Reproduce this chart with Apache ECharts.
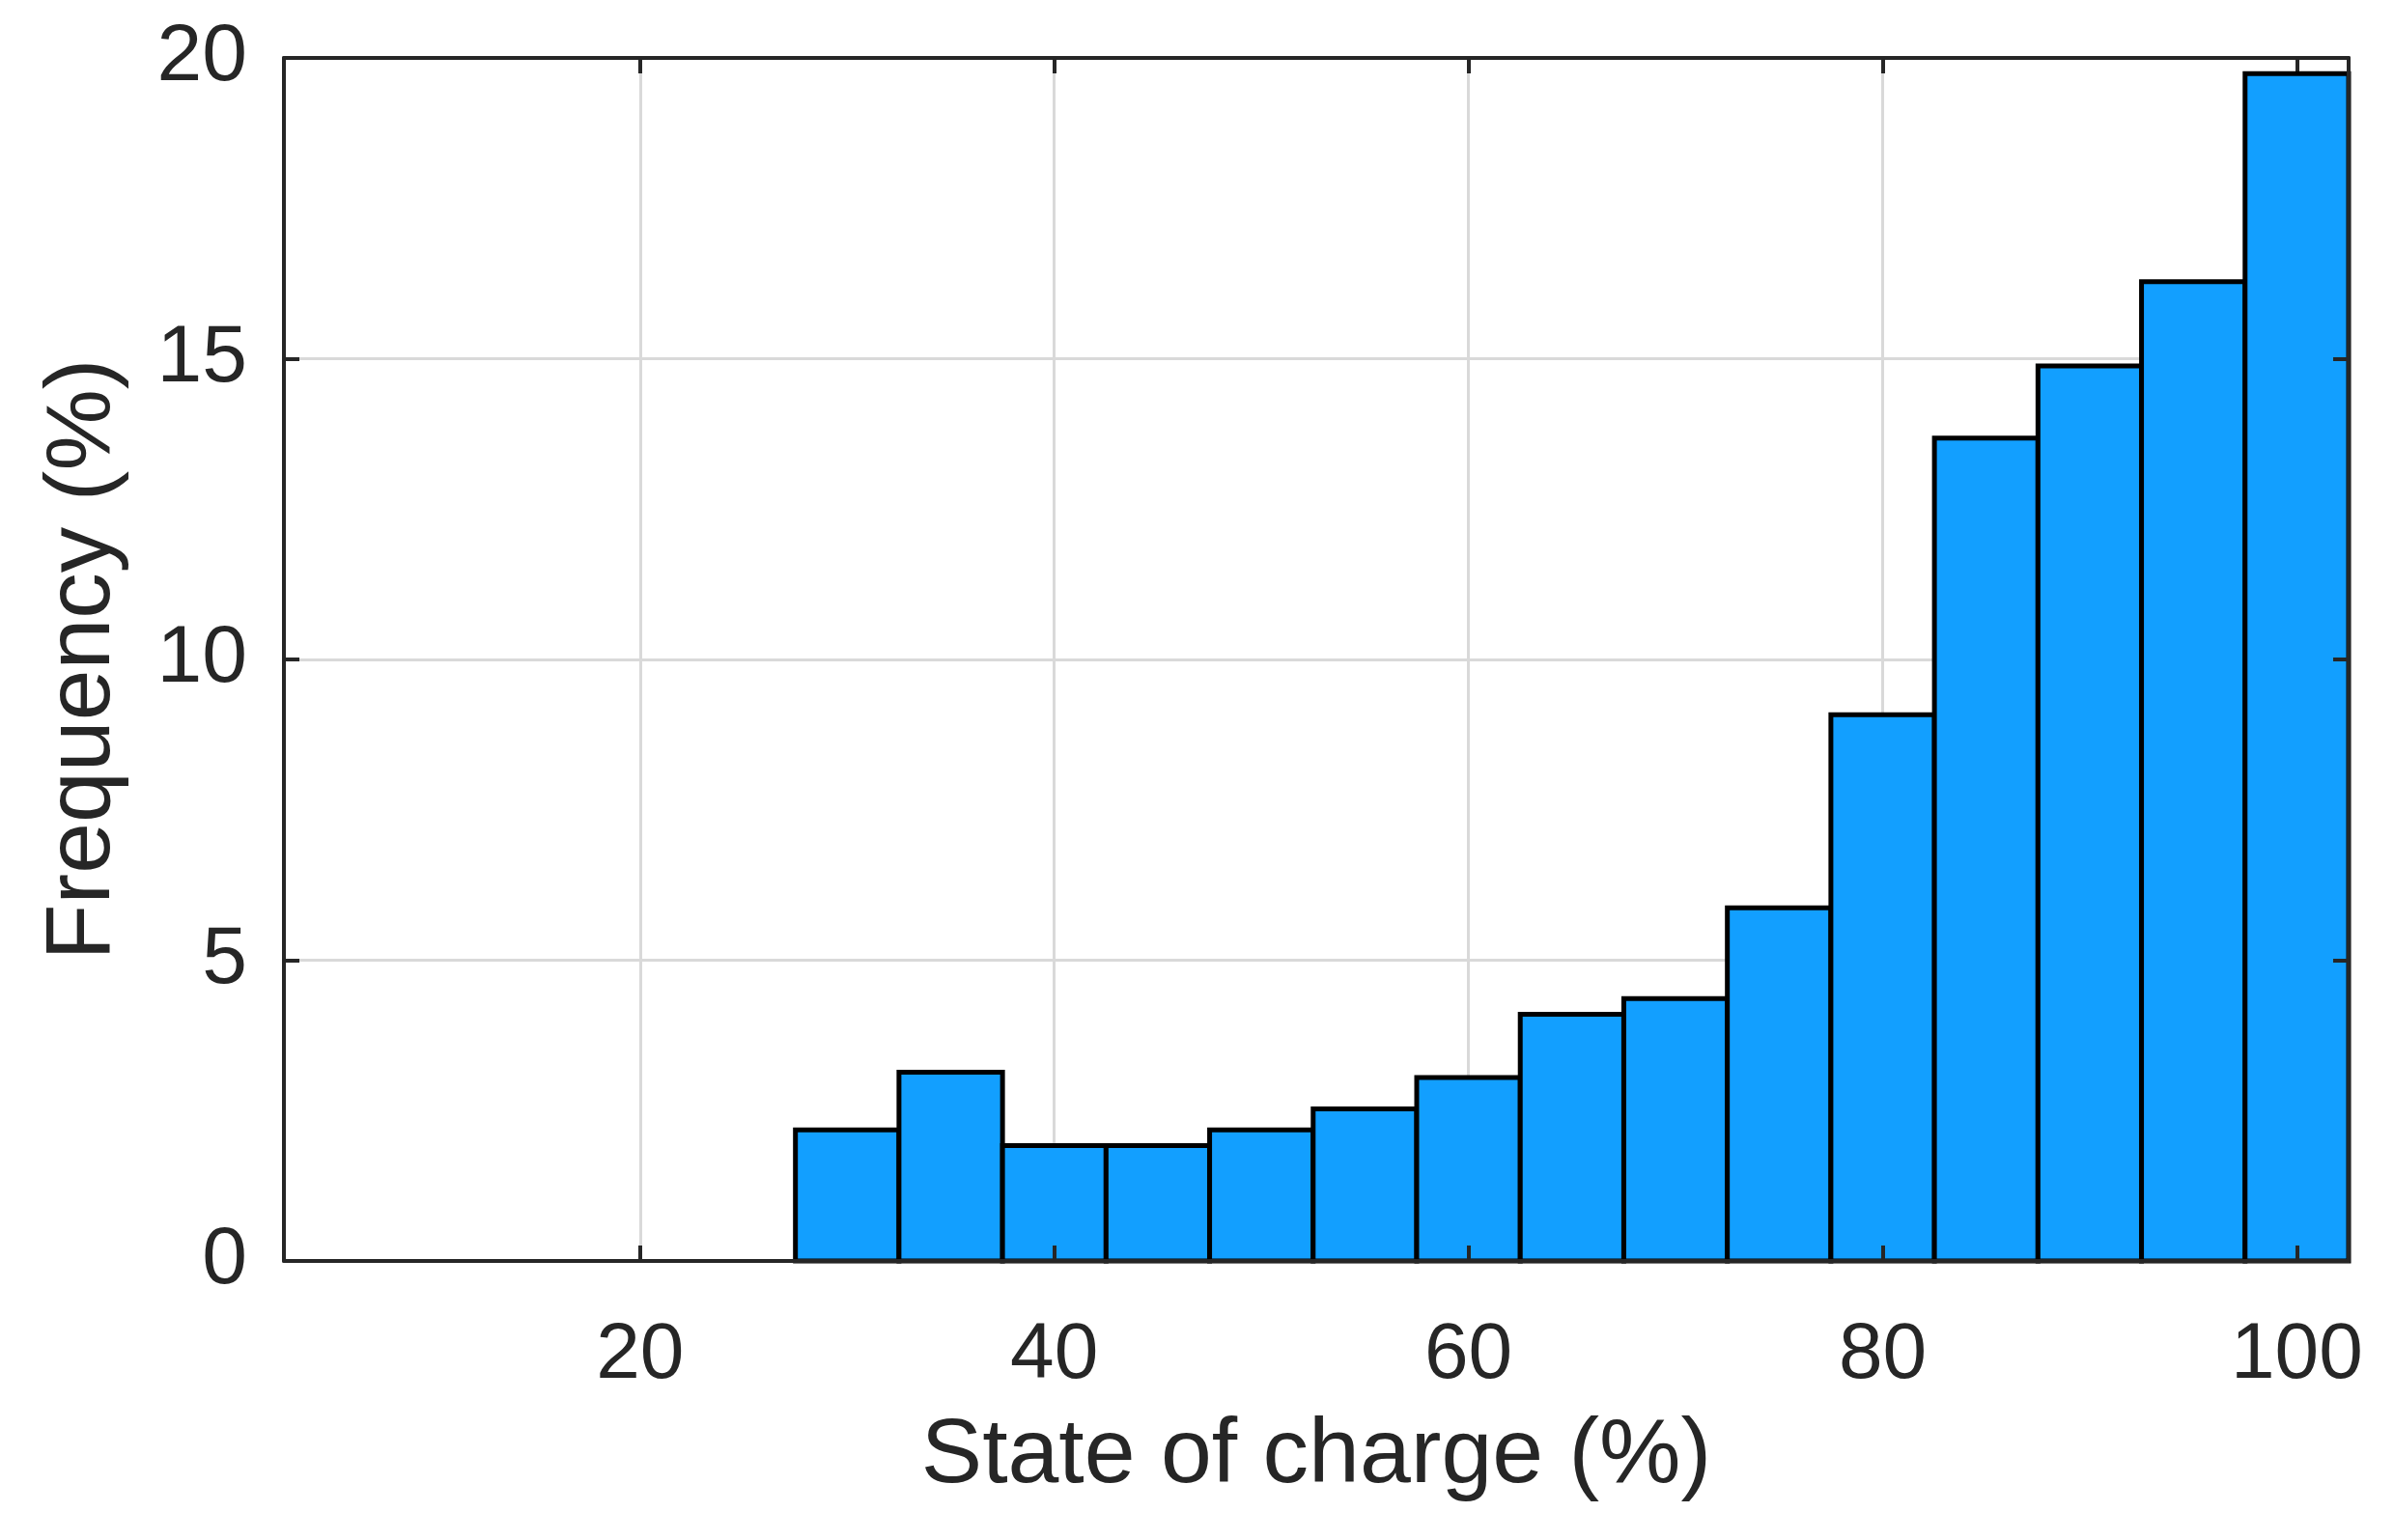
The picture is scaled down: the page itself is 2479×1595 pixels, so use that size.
<!DOCTYPE html>
<html>
<head>
<meta charset="utf-8">
<script src="https://cdn.jsdelivr.net/npm/echarts@6/dist/echarts.min.js"></script>
<style>
  html, body { margin: 0; padding: 0; background: #fff; }
  #chart { width: 2479px; height: 1595px; }
</style>
</head>
<body>
<div id="chart"></div>
<script>
// 直方图的分箱边界 (State of charge, %)
var binEdges = [27.5, 32.5, 37.5, 42.5, 47.5, 52.5, 57.5, 62.5, 67.5, 72.5, 77.5, 82.5, 87.5, 92.5, 97.5, 102.5];
// 每个分箱的频率 (%)
var frequency = [2.18, 3.14, 1.92, 1.92, 2.18, 2.53, 3.05, 4.10, 4.36, 5.87, 9.08, 13.68, 14.88, 16.28, 19.74];
// 刻度
var xTicks = [20, 40, 60, 80, 100];
var yTicks = [0, 5, 10, 15, 20];

var fontFamily = '"Liberation Sans", Arial, Helvetica, sans-serif';
var axisColor = '#262626';
var gridColor = '#d9d9d9';

var barData = [];
for (var i = 0; i < frequency.length; i++) {
  barData.push([binEdges[i], binEdges[i + 1], frequency[i]]);
}

var chart = echarts.init(document.getElementById('chart'));

var option = {
  animation: false,
  backgroundColor: '#ffffff',
  grid: {
    left: 294,
    right: 47,
    top: 60,
    bottom: 289
  },
  xAxis: [{
    // 底部：轴线、刻度、标签（在柱子上方）
    type: 'value',
    position: 'bottom',
    min: 2.8,
    max: 102.5,
    z: 5,
    name: 'State of charge (%)',
    nameLocation: 'middle',
    nameGap: 155,
    nameTextStyle: { color: axisColor, fontSize: 95, fontFamily: fontFamily },
    axisLine: { show: true, onZero: false, lineStyle: { color: axisColor, width: 4 } },
    axisTick: { show: true, inside: true, length: 16, customValues: xTicks, lineStyle: { color: axisColor, width: 4 } },
    axisLabel: { show: true, margin: 57, customValues: xTicks, color: axisColor, fontSize: 82, fontFamily: fontFamily },
    splitLine: { show: false }
  }, {
    // 顶部：网格线
    type: 'value',
    position: 'top',
    min: 2.8,
    max: 102.5,
    z: 0,
    axisLine: { show: true, onZero: false, lineStyle: { color: axisColor, width: 4 } },
    axisTick: { show: true, inside: true, length: 16, customValues: xTicks, lineStyle: { color: axisColor, width: 4 } },
    axisLabel: { show: false },
    splitLine: { show: true, lineStyle: { color: gridColor, width: 3 } }
  }],
  yAxis: [{
    // 左侧：网格线和标签
    type: 'value',
    position: 'left',
    min: 0,
    max: 20,
    interval: 5,
    z: 0,
    name: 'Frequency (%)',
    nameLocation: 'middle',
    nameGap: 160,
    nameTextStyle: { color: axisColor, fontSize: 95, fontFamily: fontFamily },
    axisLine: { show: true, onZero: false, lineStyle: { color: axisColor, width: 4 } },
    axisTick: { show: true, inside: true, length: 16, lineStyle: { color: axisColor, width: 4 } },
    axisLabel: { show: true, margin: 38, color: axisColor, fontSize: 84, fontFamily: fontFamily },
    splitLine: { show: true, lineStyle: { color: gridColor, width: 3 } }
  }, {
    // 右侧：轴线和刻度（在柱子上方）
    type: 'value',
    position: 'right',
    min: 0,
    max: 20,
    interval: 5,
    z: 5,
    axisLine: { show: true, onZero: false, lineStyle: { color: axisColor, width: 4 } },
    axisTick: { show: true, inside: true, length: 16, lineStyle: { color: axisColor, width: 4 } },
    axisLabel: { show: false },
    splitLine: { show: false }
  }],
  series: [{
    type: 'custom',
    xAxisIndex: 0,
    yAxisIndex: 0,
    z: 2,
    data: barData,
    renderItem: function (params, api) {
      var p0 = api.coord([api.value(0), api.value(2)]);
      var p1 = api.coord([api.value(1), 0]);
      return {
        type: 'rect',
        shape: { x: p0[0], y: p0[1], width: p1[0] - p0[0], height: p1[1] - p0[1] },
        style: { fill: '#129fff', stroke: '#000000', lineWidth: 5 }
      };
    }
  }]
};

chart.setOption(option);
</script>
</body>
</html>
